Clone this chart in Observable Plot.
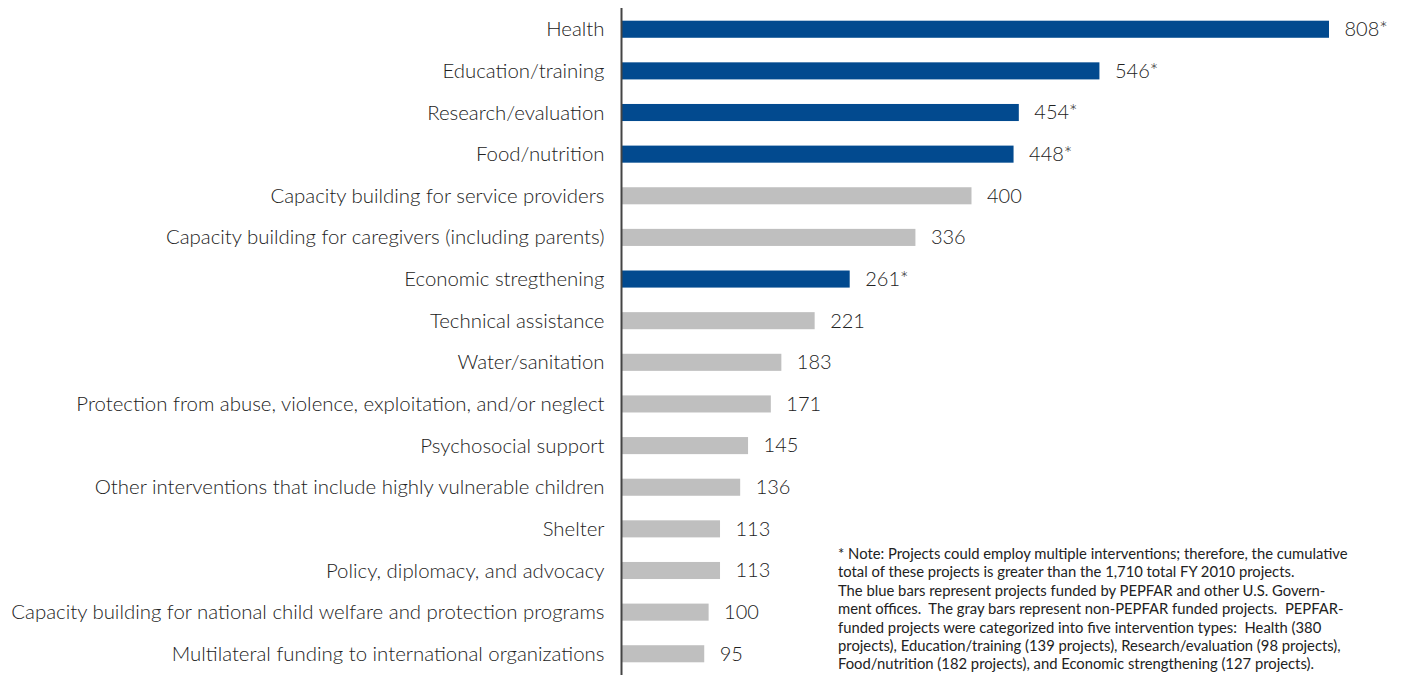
<!DOCTYPE html>
<html>
<head>
<meta charset="utf-8">
<script src="https://cdn.jsdelivr.net/npm/d3@7"></script>
<script src="https://cdn.jsdelivr.net/npm/@observablehq/plot@0.6"></script>
<style>
  html, body { margin: 0; padding: 0; background: #fff; }
  #wrap { position: relative; width: 1405px; height: 675px; overflow: hidden; }
  #note {
    position: absolute; left: 838px; top: 544px; width: 567px;
    font-family: Lato, "Open Sans", sans-serif; font-size: 14.8px; line-height: 18.4px;
    color: #222; white-space: nowrap;
  }
</style>
</head>
<body>
<div id="wrap">
  <div id="chart"></div>
  <div id="note">* Note: Projects could employ multiple interventions; therefore, the cumulative<br>total of these projects is greater than the 1,710 total FY 2010 projects.<br>The blue bars represent projects funded by PEPFAR and other U.S. Govern-<br>ment offices.&nbsp; The gray bars represent non-PEPFAR funded projects.&nbsp; PEPFAR-<br>funded projects were categorized into five intervention types:&nbsp; Health (380<br>projects), Education/training (139 projects), Research/evaluation (98 projects),<br>Food/nutrition (182 projects), and Economic strengthening (127 projects).</div>
</div>
<script>
const categories = [
  "Health",
  "Education/training",
  "Research/evaluation",
  "Food/nutrition",
  "Capacity building for service providers",
  "Capacity building for caregivers (including parents)",
  "Economic stregthening",
  "Technical assistance",
  "Water/sanitation",
  "Protection from abuse, violence, exploitation, and/or neglect",
  "Psychosocial support",
  "Other interventions that include highly vulnerable children",
  "Shelter",
  "Policy, diplomacy, and advocacy",
  "Capacity building for national child welfare and protection programs",
  "Multilateral funding to international organizations"
];
const values = [808, 546, 454, 448, 400, 336, 261, 221, 183, 171, 145, 136, 113, 113, 100, 95];
const funding = ["PEPFAR","PEPFAR","PEPFAR","PEPFAR","non-PEPFAR","non-PEPFAR","PEPFAR","non-PEPFAR","non-PEPFAR","non-PEPFAR","non-PEPFAR","non-PEPFAR","non-PEPFAR","non-PEPFAR","non-PEPFAR","non-PEPFAR"];
const fundingTypes = ["PEPFAR", "non-PEPFAR"];
const fundingColors = ["#024a8f", "#bfbfbf"];

const data = categories.map((c, i) => ({
  category: c,
  value: values[i],
  funding: funding[i],
  label: values[i] + (funding[i] === "PEPFAR" ? "*" : "")
}));

const chart = Plot.plot({
  width: 1405,
  height: 675,
  marginLeft: 621,
  marginRight: 76,
  marginTop: 8,
  marginBottom: 0,
  style: { fontFamily: "Lato, 'Open Sans', sans-serif", color: "#222", background: "#fff" },
  x: { domain: [0, 808], axis: null },
  y: { domain: categories, round: false, paddingInner: 0.59, paddingOuter: 0.305, label: null },
  color: { domain: fundingTypes, range: fundingColors },
  marks: [
    Plot.barX(data, { y: "category", x: "value", fill: "funding" }),
    Plot.text(data, { y: "category", x: "value", text: "label", textAnchor: "start", dx: 15, fontSize: 20, fontWeight: 300, fill: "#222" }),
    Plot.ruleX([0], { stroke: "#444", strokeWidth: 2 }),
    Plot.axisY({ tickSize: 0, tickPadding: 17, fontSize: 20.4, fontWeight: 300, label: null, fill: "#222" })
  ]
});
document.getElementById("chart").appendChild(chart);
</script>
</body>
</html>
